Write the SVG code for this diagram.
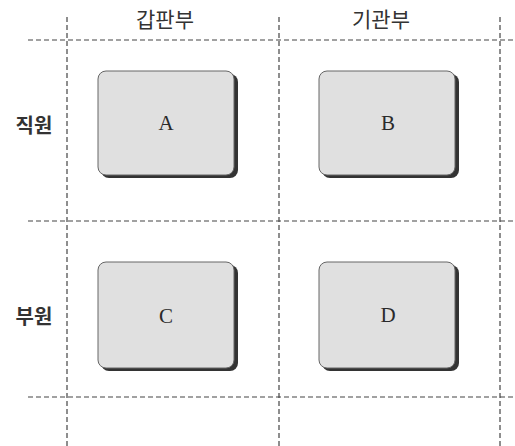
<svg xmlns="http://www.w3.org/2000/svg" width="515" height="446" viewBox="0 0 515 446">
<style>
.grid{stroke:#444;stroke-width:1.2;stroke-dasharray:5 3;fill:none}
.box{fill:#e0e0e0;stroke:#666;stroke-width:1}
.shadow{fill:#333}
.lbl{font-family:"Liberation Serif",serif;font-size:21px;fill:#2a2a2a;text-anchor:middle}
.hdr{font-family:"Noto Sans CJK KR","Noto Sans",sans-serif;font-size:21px;fill:#333;text-anchor:middle}
.row{font-family:"Noto Sans CJK KR","Noto Sans",sans-serif;font-size:20px;font-weight:bold;fill:#333;text-anchor:middle}
</style>
<rect width="515" height="446" fill="#fff"/>
<g id="connectors">
<line class="grid" x1="67" y1="17" x2="67" y2="446"/>
<line class="grid" x1="279" y1="17" x2="279" y2="446"/>
<line class="grid" x1="500" y1="17" x2="500" y2="446"/>
<line class="grid" x1="28" y1="40" x2="515" y2="40"/>
<line class="grid" x1="28" y1="221" x2="515" y2="221"/>
<line class="grid" x1="28" y1="397" x2="515" y2="397"/>
</g>
<g id="header-gap"><text class="hdr" x="165" y="27">갑판부</text></g>
<g id="header-gi"><text class="hdr" x="381" y="27">기관부</text></g>
<g id="row-jik"><text class="row" x="34" y="133">직원</text></g>
<g id="row-bu"><text class="row" x="34" y="324">부원</text></g>
<g id="A">
<rect class="shadow" x="101" y="74" width="137" height="104" rx="8"/>
<rect class="box" x="98" y="71" width="136" height="104" rx="8"/>
<text class="lbl" x="166" y="130">A</text>
</g>
<g id="B">
<rect class="shadow" x="322" y="74" width="137" height="104" rx="8"/>
<rect class="box" x="319" y="71" width="136" height="104" rx="8"/>
<text class="lbl" x="388" y="130">B</text>
</g>
<g id="C">
<rect class="shadow" x="101" y="265" width="137" height="106" rx="8"/>
<rect class="box" x="98" y="262" width="136" height="106" rx="8"/>
<text class="lbl" x="166" y="323">C</text>
</g>
<g id="D">
<rect class="shadow" x="322" y="265" width="137" height="106" rx="8"/>
<rect class="box" x="319" y="262" width="136" height="106" rx="8"/>
<text class="lbl" x="388" y="322">D</text>
</g>
</svg>
